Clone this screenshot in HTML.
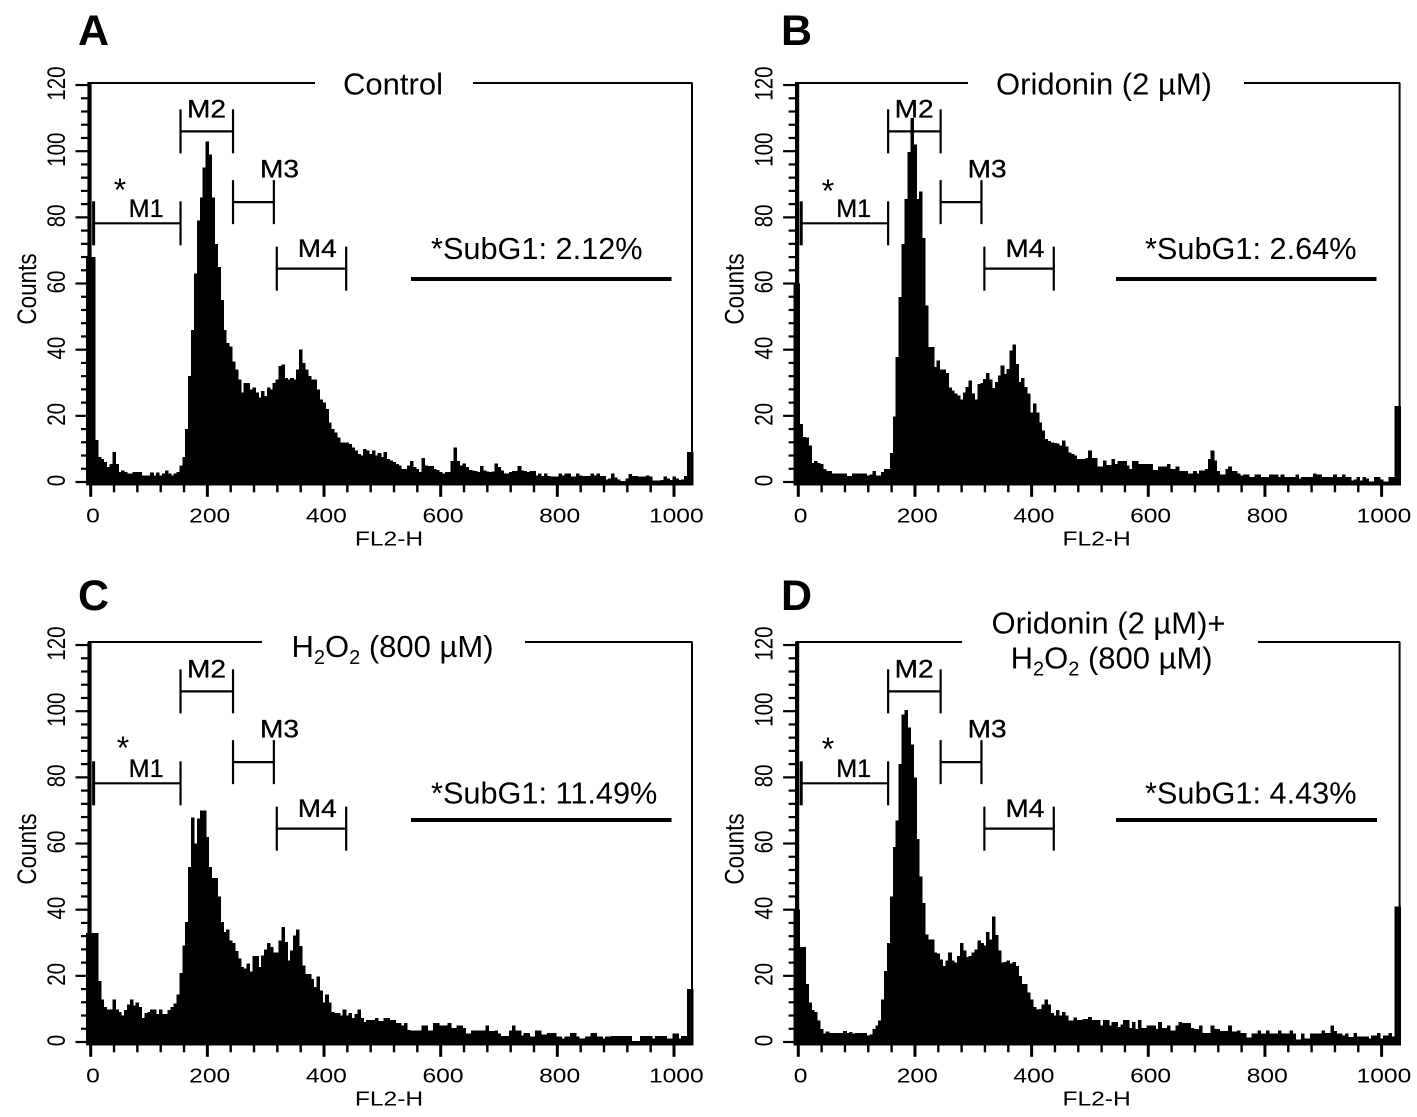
<!DOCTYPE html>
<html lang="en">
<head>
<meta charset="utf-8">
<title>Flow cytometry histograms</title>
<style>
html,body{margin:0;padding:0;background:#fff;}
svg{display:block;}
text{font-family:"Liberation Sans",Arial,sans-serif;fill:#000;}
</style>
</head>
<body>
<svg id="figure" xmlns="http://www.w3.org/2000/svg" width="1417" height="1117" viewBox="0 0 1417 1117">
<rect width="1417" height="1117" fill="#fff"/>

<g id="panel-a">
  <text x="78" y="45" font-size="43" font-weight="bold">A</text>
  <line x1="88" y1="83" x2="315" y2="83" stroke="#000" stroke-width="2"/>
  <line x1="473" y1="83" x2="692.5" y2="83" stroke="#000" stroke-width="2"/>
  <line x1="692" y1="83" x2="692" y2="485" stroke="#000" stroke-width="2"/>
  <text x="393" y="94.5" font-size="31" text-anchor="middle">Control</text>
  <text x="431" y="259" font-size="30.7">*SubG1: 2.12%</text>
  <rect x="411" y="277" width="260.5" height="4"/>
  <text x="120" y="201" font-size="32" text-anchor="middle">*</text>
</g>

<g id="panel-b" transform="translate(707.6,0)">
  <text x="73.4" y="45" font-size="43" font-weight="bold">B</text>
  <line x1="88" y1="83" x2="260.4" y2="83" stroke="#000" stroke-width="2"/>
  <line x1="536.4" y1="83" x2="692.5" y2="83" stroke="#000" stroke-width="2"/>
  <line x1="692" y1="83" x2="692" y2="485" stroke="#000" stroke-width="2"/>
  <text x="396.4" y="94.5" font-size="31" text-anchor="middle">Oridonin (2 µM)</text>
  <text x="437.4" y="259" font-size="30.7">*SubG1: 2.64%</text>
  <rect x="408.4" y="277" width="260.5" height="4"/>
  <text x="120.4" y="202" font-size="32" text-anchor="middle">*</text>
</g>

<g id="panel-c" transform="translate(0,560)">
  <text x="78" y="50" font-size="43" font-weight="bold">C</text>
  <line x1="88" y1="82" x2="262" y2="82" stroke="#000" stroke-width="2"/>
  <line x1="525" y1="82" x2="692.5" y2="82" stroke="#000" stroke-width="2"/>
  <line x1="692" y1="82" x2="692" y2="485" stroke="#000" stroke-width="2"/>
  <text x="392.5" y="97" font-size="31" text-anchor="middle">H<tspan dy="7" font-size="20">2</tspan><tspan dy="-7">O</tspan><tspan dy="7" font-size="20">2</tspan><tspan dy="-7"> (800 µM)</tspan></text>
  <text x="431" y="243.5" font-size="30.7">*SubG1: 11.49%</text>
  <rect x="411" y="258" width="260.5" height="4"/>
  <text x="123" y="199" font-size="32" text-anchor="middle">*</text>
</g>

<g id="panel-d" transform="translate(707.6,560)">
  <text x="73.4" y="50" font-size="43" font-weight="bold">D</text>
  <line x1="88" y1="82" x2="254.4" y2="82" stroke="#000" stroke-width="2"/>
  <line x1="550.4" y1="82" x2="692.5" y2="82" stroke="#000" stroke-width="2"/>
  <line x1="692" y1="82" x2="692" y2="485" stroke="#000" stroke-width="2"/>
  <text x="400.9" y="73.5" font-size="31" text-anchor="middle">Oridonin (2 µM)+</text>
  <text x="404" y="108.5" font-size="31" text-anchor="middle">H<tspan dy="7" font-size="20">2</tspan><tspan dy="-7">O</tspan><tspan dy="7" font-size="20">2</tspan><tspan dy="-7"> (800 µM)</tspan></text>
  <text x="437.4" y="243.5" font-size="30.7">*SubG1: 4.43%</text>
  <rect x="408.4" y="258" width="261" height="4"/>
  <text x="120.4" y="200" font-size="32" text-anchor="middle">*</text>
</g>
</svg>

<script>
const countsA = [68,68,68,12.7,7.5,7,6,4.5,5.5,9,5.5,3,3.5,3,2.5,2.5,3,3,3,2,2,2,2.8,2,2.8,2,2.5,3.5,2.5,2,2.5,3,5,7.5,
16,32,46,63,79,86,95,103,99,86,72,65,55,46,42,41,36.5,34,31,27,30,30,28,28.5,27,25.5,27.5,26,28.5,28,30,31,35,35.5,31.5,31,31.5,31,34,40,36,34,32,31,31,28,25,24,22,18,16,15,13.5,12,12,12,11.5,10.5,9.5,8.5,8,10,9.5,8.5,9.5,8,8.8,7.5,9,
7,6.5,6,5.5,5,4,4,5,6.4,4.5,4,3,7.3,5,4.8,4.8,4,3.6,3,2.6,3,3,6.4,10.5,6.4,5,5.6,4.5,3.6,3.5,3.4,3,4.8,3.5,3.2,3,3.2,5.6,4.5,3.5,2.6,2.6,3,3.4,3.4,4.8,3.5,3.4,3,3.4,3.4,2,2.5,1.8,2.6,1.8,1.7,1.6,1.6,2.6,2,2.6,2.6,1.6,1.6,2.6,2,1.8,1.8,1.8,2.6,2,2.6,1.8,1.8,0.8,1,2.6,1.4,0.8,0.3,0.3,1,2.4,1.8,1.8,1.6,1.6,1.6,2,1.6,0.4,0.4,0.4,0.6,1.6,1,0.6,1.6,1,0.6,0.8,1.8,9,9];

const countsB = [60,60,17.6,13.6,13.5,11,5.8,6.3,5.8,5.5,4,3.3,3.3,2.5,2.5,2.5,2.5,2.5,1.8,1.8,2.5,2.5,2.5,2.5,2.5,2,2.2,3.3,2,2,3,4,4,8.8,
19.8,37.8,56,72,85.6,99.7,110,102,85.6,87.8,73.8,53.4,40.8,40.8,34.7,36.8,34,34,33,28.5,27.7,26.7,26.2,25,27,28.7,30.7,26.7,25,29.7,30,31.2,33,31,28.4,30.2,32.2,35.2,32.7,34.2,39.8,41.6,35.7,30.2,31.5,28.7,26.7,21,23.7,21,18,15.6,13,12.4,12,11.8,11.6,11,12.6,10.8,8.9,8.5,8,7,7,
7,7.3,9.5,7.2,7.2,4.7,4.7,6.5,5.2,5.2,7,5.5,6.3,6.3,6.3,5,4,6.3,6.3,5.5,5.5,5.5,5.5,5.5,3.7,3.7,4.7,4.7,4.7,5.5,4,4,4.7,3.3,3.3,3.3,2.5,2.5,3.3,2.5,3.5,3.5,4,7,9.5,6.5,3.3,2.2,2.2,4,4.7,3.3,3.3,2.5,2,2.3,2.3,1.5,1.5,2.3,2.3,1.5,1.5,1.5,2.2,2.2,2.2,1.5,2.3,1.5,1.5,1.5,1.5,2.3,1,1.5,1.5,1.5,1.5,2.5,2.2,2.2,1.5,1.5,1.5,1.5,2.3,1.5,1.5,2.3,1.5,1.5,0.5,0.8,1.5,0.5,1.5,1,0.2,0.2,1.5,1.5,0.7,0.2,0.2,1.5,1.5,23,23];

const countsC = [33,33,33,33,18.4,12.8,10.6,9.8,9.8,12.8,9.8,9,8,9.6,11.3,12.8,11,12,10.6,7.3,8.8,9,9.8,9.8,8.4,9.8,8.4,8.4,9.6,10.6,11.6,14.4,20.8,29.2,
36.3,52.9,67.8,60,67.5,70,70,62,52.9,49.6,49.6,44,36.3,33.2,34,30.7,30,27.5,25.2,22.7,22.2,23.7,21.3,26,26,22.7,26.2,27.9,30,28.7,27,27,30.7,34.7,30.2,24.7,27.7,32.2,34,29,23.2,20.6,20.6,19,16.6,19.8,15.6,12,14.4,12,9,8.8,8.8,8,9.8,8,8.8,7.3,8.4,9.8,7.3,6,6.7,6.7,6.7,
7.3,6.3,6.3,7.3,7.3,6.7,6.7,5.7,5.7,5,5.7,3.7,3.5,3.5,3.5,3.5,5,5,3.5,3.5,5.7,5.7,5,5,5,5.7,4.3,4.3,5,5,4.3,2.5,2.5,3.5,3.5,3.5,3.5,3.5,5,3.3,3.3,3.5,2.5,1.8,1.8,1.8,3.5,5,3.5,3.5,2,2.7,2.7,1.7,1.7,3.5,3.5,2.2,2.2,2.7,2.7,2.7,1.7,1.7,1,1.7,1.7,2.7,2.7,1.7,1,1,1.7,1.7,2.7,2.7,1.7,1.7,1,1.7,1.7,1.8,1.8,1.8,1.8,1.8,1.8,1.8,0.3,0.3,0.3,1.8,1.8,1.8,1.8,1,1.8,1.8,1.8,1.8,1,1,2.5,2.5,1,1.8,1.8,16,16];

const countsD = [40,40,28.7,28.7,17.6,12,9.6,9,6.5,4,2.5,3.2,2.7,2.7,2.7,2.7,2.7,3.3,2.7,3,2.5,2.7,2.7,2.7,2.7,2,2.2,4,5,6.5,12.8,21.4,30,44,
59,67,84,99,100.4,95,90,80,61.4,50,42,32.5,31,31,27,26.7,25,23,24.7,27,24.7,24,26,30,27.7,25.7,26,27,28,30.7,30,29.2,33.2,31,38,32.4,27.7,24,24.2,24.7,23.7,24.2,23,20,17.6,17.6,15,12.8,10.6,9.8,10,11.4,12.8,11.4,8.8,8,9.6,8,9,8,6.5,6.5,7.4,6.7,6.7,
7,7,7.5,6.7,6.7,6.7,5,6.7,6.7,5,6,6,4.5,5.3,6.7,6.7,4.3,6,4,6.7,4.3,4.3,5,5,5,4,6,4.3,4.3,5,3.5,3.5,5,6,5.7,5.7,5.7,4.3,4,4,5,2.7,2.7,2.7,5,4,4,3.3,3.3,3.3,5,3.2,3.2,3.5,2.7,2.7,1.3,1.3,2.5,2.5,3.5,2.5,2.5,3.5,2.5,2.5,2.5,3.5,2.5,2.5,2.5,3.5,2.5,0.7,0.7,2.5,1,1,2.5,2.5,2.5,2.5,3.5,2.7,2.7,5,3.3,2.5,2.5,2,2.5,1.5,1.5,2.7,1.7,1.7,1.7,1.7,1,2,2,2.7,1,2,2,2.7,1.7,41,41];

const binStart = -8;
const binWidth = 5;
const xTickLabels = [0,200,400,600,800,1000];
const yTickLabels = [0,20,40,60,80,100,120];
const xMinorStep = 40;
const yMinorStep = 4;
const xAxisTitle = "FL2-H";
const yAxisTitle = "Counts";
const markerNames = ["M1","M2","M3","M4"];
const markerStarts = [5,154,244,319];
const markerEnds = [154,244,314,438];
const markerLevels = [78.2,106,84.6,64.5];

const SVGNS = "http://www.w3.org/2000/svg";

function xScale(v){ return 90.7 + v * 0.5833; }
function yScale(v){ return 482 - v * 3.308; }

function svgEl(tag, parent){
  const el = document.createElementNS(SVGNS, tag);
  parent.appendChild(el);
  return el;
}

function drawHistogram(group, counts){
  const base = yScale(-1);
  const hist = svgEl("g", group);
  
  
  hist.setAttribute("shape-rendering", "crispEdges");
  counts.forEach(function(count, i){
    const left = xScale(binStart + i * binWidth);
    const right = xScale(binStart + (i + 1) * binWidth);
    const bar = svgEl("rect", hist);
    
    
    bar.setAttribute("x", left.toFixed(2));
    bar.setAttribute("width", (right - left + 0.7).toFixed(2));
    bar.setAttribute("y", yScale(count).toFixed(2));
    bar.setAttribute("height", (base - yScale(count)).toFixed(2));
    bar.setAttribute("fill", "#000");
  });
}

function drawLine(parent, x1, y1, x2, y2, w, name){
  const l = svgEl("line", parent);
  
  
  l.setAttribute("x1", x1);
  l.setAttribute("y1", y1);
  l.setAttribute("x2", x2);
  l.setAttribute("y2", y2);
  l.setAttribute("stroke", "#000");
  l.setAttribute("stroke-width", w);
  return l;
}

function drawAxes(group){
  const axisBase = yScale(-1);
  const xAxis = svgEl("g", group);
  
  
  const yAxis = svgEl("g", group);
  
  

  drawLine(yAxis, 89.5, 82, 89.5, axisBase, 4.2, "y-axis-line");
  const maxX = xTickLabels[xTickLabels.length - 1];
  const maxY = yTickLabels[yTickLabels.length - 1];

  for (let v = 0; v <= maxX; v += xMinorStep) {
    const major = xTickLabels.indexOf(v) >= 0;
    drawLine(xAxis, xScale(v), axisBase, xScale(v), axisBase + (major ? 11.5 : 7), major ? 3 : 2.4, major ? "x-major-tick" : "x-minor-tick");
  }
  for (let v = 0; v <= maxY; v += yMinorStep) {
    const major = yTickLabels.indexOf(v) >= 0;
    drawLine(yAxis, major ? 75.5 : 81, yScale(v), 88, yScale(v), 2.2, major ? "y-major-tick" : "y-minor-tick");
  }
  xTickLabels.forEach(function(label){
    const t = svgEl("text", xAxis);
    
    
    t.setAttribute("transform", "translate(" + (xScale(label) + 2.3) + ",522.5) scale(1.2,1)");
    t.setAttribute("font-size", "20.5");
    t.setAttribute("text-anchor", "middle");
    t.textContent = label;
  });
  yTickLabels.forEach(function(label){
    const t = svgEl("text", yAxis);
    
    
    t.setAttribute("transform", "translate(65," + (yScale(label) - 1.5) + ") scale(1.2,1) rotate(-90)");
    t.setAttribute("font-size", "20.5");
    t.setAttribute("text-anchor", "middle");
    t.textContent = label;
  });
  const xt = svgEl("text", xAxis);
  
  
  xt.setAttribute("transform", "translate(389,545.7) scale(1.2,1)");
  xt.setAttribute("font-size", "20.5");
  xt.setAttribute("text-anchor", "middle");
  xt.textContent = xAxisTitle;
  const yt = svgEl("text", yAxis);
  
  
  yt.setAttribute("transform", "translate(36,289) scale(1.2,1) rotate(-90)");
  yt.setAttribute("font-size", "22.5");
  yt.setAttribute("text-anchor", "middle");
  yt.textContent = yAxisTitle;
}

function drawMarkers(group){
  markerNames.forEach(function(name, i){
    const m = svgEl("g", group);
    
    
    const x1 = xScale(markerStarts[i]);
    const x2 = xScale(markerEnds[i]);
    const y = yScale(markerLevels[i]);
    drawLine(m, x1, y, x2, y, 2.2, "marker-span");
    drawLine(m, x1, y - 22, x1, y + 22, i === 0 ? 3 : 2.2, "marker-start-tick");
    drawLine(m, x2, y - 22, x2, y + 22, 2.2, "marker-end-tick");
    const t = svgEl("text", m);
    
    
    const w = i === 0 ? 35 : 39;
    t.setAttribute("x", ((i === 0 ? x1 + 35 : i === 3 ? x1 + 21 : i === 2 ? x1 + 27 : x1 + 6.5)).toFixed(1));
    t.setAttribute("y", (y - (i === 0 ? 6.5 : i === 1 ? 14 : i === 2 ? 24.5 : 11.5)).toFixed(1));
    t.setAttribute("font-size", "25");
    t.setAttribute("stroke", "#000");
    t.setAttribute("stroke-width", "0.3");
    t.setAttribute("textLength", w);
    t.setAttribute("lengthAdjust", "spacingAndGlyphs");
    t.textContent = name;
  });
}

const panelIds = ["panel-a","panel-b","panel-c","panel-d"];
const panelCounts = [countsA,countsB,countsC,countsD];
panelIds.forEach(function(id, i){
  const g = document.getElementById(id);
  drawHistogram(g, panelCounts[i]);
  drawAxes(g);
  drawMarkers(g);
});
</script>
</body>
</html>
